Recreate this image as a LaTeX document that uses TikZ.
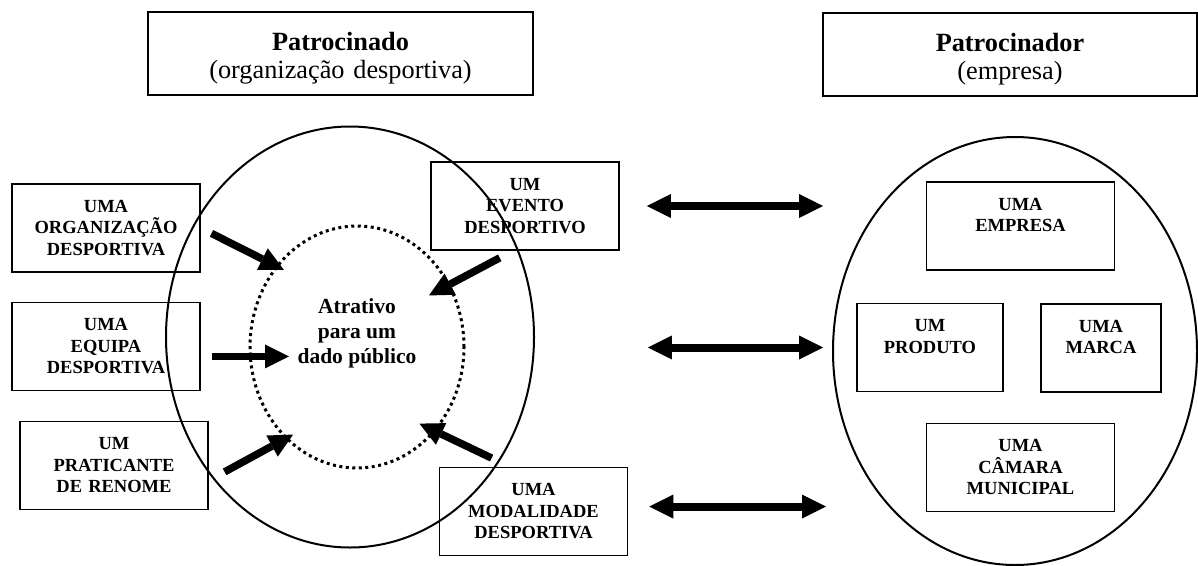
\documentclass[tikz,border=0pt]{standalone}
\usepackage{fontspec}
\setmainfont{Liberation Serif}
\usepackage{tikz}
\usetikzlibrary{positioning,arrows.meta,shapes.geometric}

\begin{document}
\begin{tikzpicture}[x=1pt, y=-1pt,
  hdr/.style={draw, line width=1.6pt, inner sep=0pt, align=center,
              font=\fontsize{26.3}{28}\selectfont,
              text height=38pt, text depth=45pt},
  item/.style={draw, line width=1.6pt, inner sep=0pt, align=center,
               font=\fontsize{18.5}{21.5}\selectfont\bfseries,
               text width=188pt, text height=28pt, text depth=60pt},
  zone/.style={draw, ellipse, line width=2pt, inner sep=0pt},
  ring/.style={draw, ellipse, line width=3pt, dash pattern=on 3pt off 3.5pt,
               inner sep=0pt, minimum width=214pt, minimum height=242pt},
  push/.style={-{Triangle[width=24pt,length=24pt,line width=0pt]}, line width=7.5pt},
  link/.style={{Triangle[width=24pt,length=24pt,line width=0pt]}-{Triangle[width=24pt,length=24pt,line width=0pt]},
               line width=8pt}]
\path[use as bounding box, clip] (0,0) rectangle (1198,565);
\node[hdr, text width=385pt] (sponseehdr) at (340.5,53.5) {\textbf{Patrocinado}\\(organização desportiva)};
\node[hdr, text width=374pt] (sponsorhdr) at (1010,54.5) {\textbf{Patrocinador}\\(empresa)};
\node[zone, minimum width=368pt, minimum height=421pt] (sponsee) at (350,337) {};
\node[zone, minimum width=364pt, minimum height=428pt] (sponsor) at (1015,351) {};
\node[ring] (ring) at (357,347) {};
\node[font=\fontsize{21.5}{25}\selectfont\bfseries, align=center] (atr) at (357,333) {Atrativo\\para um\\dado público};
\node[item] (org)    at (106,228)   {UMA\\ORGANIZAÇÃO\\DESPORTIVA};
\node[item] (equip)  at (106,346.5) {UMA\\EQUIPA\\DESPORTIVA};
\node[item] (prat)   at (114,465.5) {UM\\PRATICANTE\\DE RENOME};
\node[item] (evento) at (525,206)   {UM\\EVENTO\\DESPORTIVO};
\node[item] (modal)  at (533.5,511.5) {UMA\\MODALIDADE\\DESPORTIVA};
\node[item] (empresa) at (1020.5,226) {UMA\\EMPRESA};
\node[item, text width=146pt] (produto) at (930,347.5) {UM\\PRODUTO};
\node[item, text width=120pt] (marca)   at (1101,348)  {UMA\\MARCA};
\node[item] (camara) at (1020.5,467.5) {UMA\\CÂMARA\\MUNICIPAL};
\draw[push, shorten <=12pt, shorten >=-9pt] (org.east) -- (ring.135);
\draw[push, shorten <=11pt, shorten >=5pt] (equip.-6) -- (equip.-6 -| atr.west);
\draw[push, shorten <=18pt, shorten >=-9pt] (prat.-9) -- (ring.232.5);
\draw[push, shorten <=15pt, shorten >=-24pt] (evento.255) -- (ring.34);
\draw[push, shorten <=20pt, shorten >=-18pt] (modal.118) -- (ring.313);
\draw[link, shorten <=27pt, shorten >=9pt] (evento.east) -- (evento.east -| sponsor.west);
\draw[link, shorten <=28pt, shorten >=9pt] (evento.east |- produto.west) -- (sponsor.west |- produto.west);
\draw[link, shorten <=21pt, shorten >=6pt] (modal.3) -- (modal.3 -| sponsor.west);
\end{tikzpicture}
\end{document}
